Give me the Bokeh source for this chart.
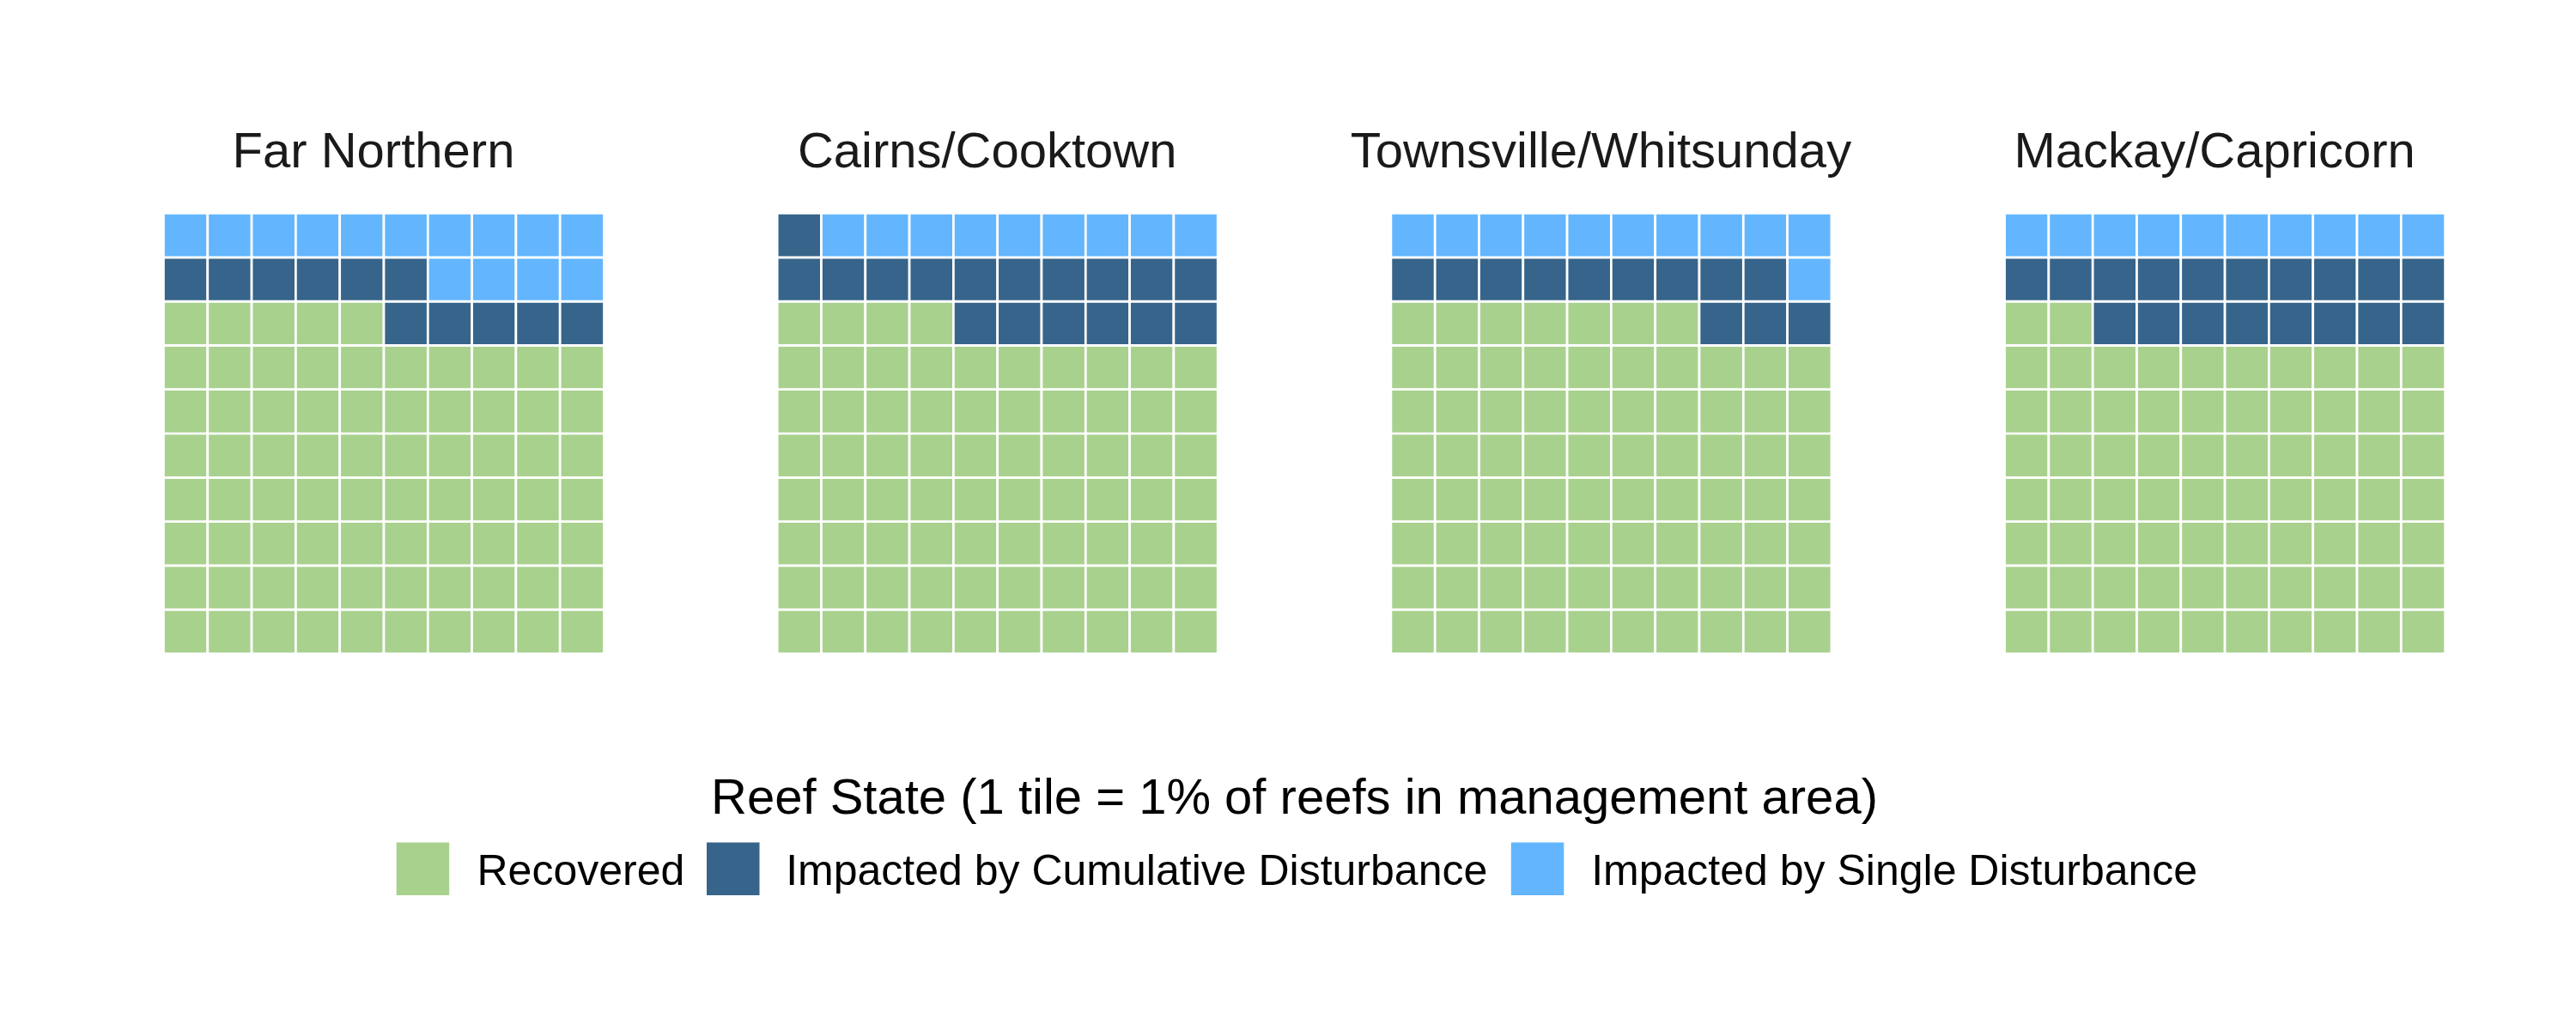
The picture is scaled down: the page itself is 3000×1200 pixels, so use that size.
from bokeh.plotting import figure
from bokeh.models import Range1d, ColumnDataSource
from bokeh.core.properties import value
from bokeh.embed import file_html
from bokeh.resources import INLINE

# ---- data ----
regions = ["Far Northern", "Cairns/Cooktown", "Townsville/Whitsunday", "Mackay/Capricorn"]
states = ["Recovered", "Impacted by Cumulative Disturbance", "Impacted by Single Disturbance"]
recovered = [75, 74, 77, 72]
cumulative = [11, 17, 12, 18]
single = [14, 9, 11, 10]
state_colors = ["#A9D18E", "#37648A", "#63B6FE"]
legend_title = "Reef State (1 tile = 1% of reefs in management area)"

# ---- layout (pixels) ----
W, H = 3000, 1200
grid_left0 = 190.0
panel_step = 714.7
grid_bottom = 761.0
pitch = 51.3
ncol = 10
title_offset = -12.0
title_baseline = 174.0
FONT = "Liberation Sans"

p = figure(width=W, height=H, output_backend="svg", toolbar_location=None,
           x_range=Range1d(0, W), y_range=Range1d(H, 0),
           x_axis_type=None, y_axis_type=None, min_border=0,
           outline_line_color=None, background_fill_color="white",
           border_fill_color="white")
p.grid.visible = False

xs, ys, cols = [], [], []
tx, ty, tt = [], [], []
for k, name in enumerate(regions):
    counts = [recovered[k], cumulative[k], single[k]]
    seq = []
    for s, c in enumerate(counts):
        seq += [s] * c
    gx0 = grid_left0 + k * panel_step
    for i, s in enumerate(seq):
        col = i % ncol
        row = i // ncol
        xs.append(gx0 + (col + 0.5) * pitch)
        ys.append(grid_bottom - (row + 0.5) * pitch)
        cols.append(state_colors[s])
    tx.append(gx0 + ncol * pitch / 2 + title_offset)
    ty.append(title_baseline)
    tt.append(name)

src = ColumnDataSource(dict(x=xs, y=ys, c=cols))
p.rect(x="x", y="y", width=pitch, height=pitch, fill_color="c",
       line_color="white", line_width=2.7, source=src)

p.text(x=tx, y=ty, text=tt, text_font=value(FONT), text_font_size="58px",
       text_color="#1A1A1A", text_align="center", text_baseline="alphabetic")

# ---- legend ----
p.text(x=[1507], y=[927], text=[legend_title], text_font=value(FONT),
       text_font_size="58px", text_color="#000000", text_align="center",
       text_baseline="alphabetic")
key_x = [461.2, 822.5, 1759.3]
lab_x = [555.0, 914.7, 1852.7]
key_size = 61.5
key_top = 981.0
p.rect(x=[kx + key_size / 2 for kx in key_x], y=[key_top + key_size / 2] * 3,
       width=key_size, height=key_size, fill_color=state_colors, line_color=None)
p.text(x=lab_x, y=[1013] * 3, text=states, text_font=value(FONT),
       text_font_size="50px", text_color="#000000", text_align="left",
       text_baseline="alphabetic")

open("out.html", "w").write(file_html(p, INLINE))
